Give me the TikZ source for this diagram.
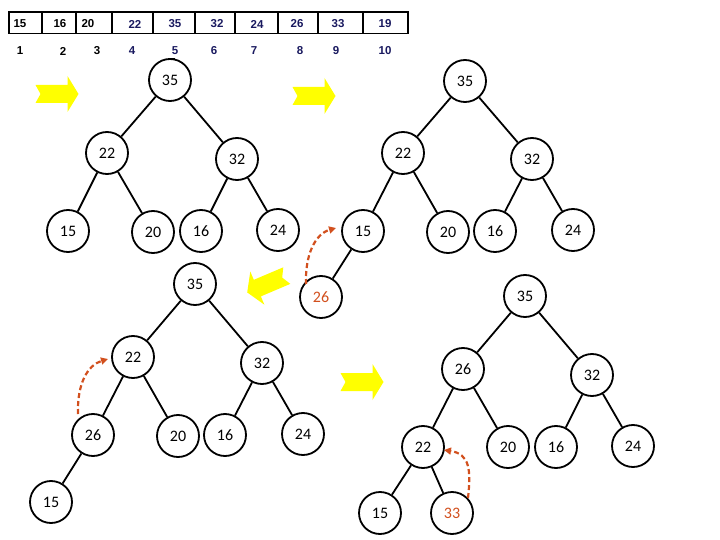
\documentclass[tikz,border=0pt]{standalone}
\usepackage{fontspec}
\setmainfont{Carlito}
\newfontfamily\arrfont{Liberation Sans}
\usetikzlibrary{arrows.meta}
\definecolor{hred}{RGB}{210,80,30}
\definecolor{hnavy}{RGB}{25,25,95}
\definecolor{hyel}{RGB}{255,255,0}
\tikzset{
 hn/.style={circle,draw,line width=1.8pt,minimum size=42pt,inner sep=0pt,fill=white,font=\fontsize{16}{16}\selectfont},
 hnr/.style={hn,text=hred},
 he/.style={line width=1.8pt},
 mv/.style={draw=hred,line width=2.2pt,dash pattern=on 5pt off 3pt,-{Triangle[length=7pt,width=7pt]}},
 yarr/.pic={\fill[hyel] (-21.5,-9) -- (10.5,-9) -- (10.5,-18) -- (21.5,0) -- (10.5,18) -- (10.5,9) -- (-21.5,9) -- (-16.5,0) -- cycle;},
 cell/.style={font=\arrfont\bfseries\fontsize{11.5}{11.5}\selectfont,inner sep=0pt},
}
\begin{document}
\begin{tikzpicture}[x=1pt,y=-1pt]
\useasboundingbox (0,0) rectangle (720,540);
% array
\draw[line width=1.8pt] (9,12) rectangle (408,33.5);
\foreach \x in {41.7,76,111.7,152.7,195,235,278.3,318.3,363.3}
  \draw[line width=1.8pt] (\x,12) -- (\x,33.5);
\node[cell] (c1) at (20,24) {15};
\node[cell] (c2) at (60,24) {16};
\node[cell] (c3) at (88,24) {20};
\node[cell,text=hnavy] (c4) at (135,24) {22};
\node[cell,text=hnavy] (c5) at (175,24) {35};
\node[cell,text=hnavy] (c6) at (217,24) {32};
\node[cell,text=hnavy] (c7) at (257,24) {24};
\node[cell,text=hnavy] (c8) at (297,24) {26};
\node[cell,text=hnavy] (c9) at (338,24) {33};
\node[cell,text=hnavy] (c10) at (385,24) {19};
\node[cell] (i1) at (20,51) {1};
\node[cell] (i2) at (63,51) {2};
\node[cell] (i3) at (97,51) {3};
\node[cell,text=hnavy] (i4) at (132,51) {4};
\node[cell,text=hnavy] (i5) at (175,51) {5};
\node[cell,text=hnavy] (i6) at (214,51) {6};
\node[cell,text=hnavy] (i7) at (254,51) {7};
\node[cell,text=hnavy] (i8) at (300,51) {8};
\node[cell,text=hnavy] (i9) at (336,51) {9};
\node[cell,text=hnavy] (i10) at (385,51) {10};
\draw[line width=1pt] (168,58.5) -- (175,58.5);
% yellow arrows
\pic at (57,94) {yarr};
\pic at (314,96) {yarr};
\pic[rotate=203] at (267,284) {yarr};
\pic at (362,382) {yarr};
% tree 1
\node[hn] (a35) at (170,80) {35};
\node[hn] (a22) at (107,153) {22};
\node[hn] (a32) at (237,159) {32};
\node[hn] (a15) at (68,231) {15};
\node[hn] (a20) at (153,232) {20};
\node[hn] (a16) at (201,231) {16};
\node[hn] (a24) at (278,230) {24};
\draw[he] (a35)--(a22) (a35)--(a32) (a22)--(a15) (a22)--(a20) (a32)--(a16) (a32)--(a24);
% tree 2
\node[hn] (b35) at (465,81) {35};
\node[hn] (b22) at (403,153) {22};
\node[hn] (b32) at (532,159) {32};
\node[hn] (b15) at (363,231) {15};
\node[hn] (b20) at (448,232) {20};
\node[hn] (b16) at (495,231) {16};
\node[hn] (b24) at (573,230) {24};
\node[hnr] (b26) at (321,297) {26};
\draw[he] (b35)--(b22) (b35)--(b32) (b22)--(b15) (b22)--(b20) (b32)--(b16) (b32)--(b24) (b15)--(b26);
\coordinate (m1s) at (306,284);
\coordinate (m1e) at (336,228);
\draw[mv] (m1s) .. controls (305,255) and (315,234) .. (m1e);
% tree 3
\node[hn] (d35) at (195,284) {35};
\node[hn] (d22) at (133,357) {22};
\node[hn] (d32) at (262,363) {32};
\node[hn] (d26) at (93,435) {26};
\node[hn] (d20) at (178,436) {20};
\node[hn] (d16) at (225,435) {16};
\node[hn] (d24) at (303,434) {24};
\node[hn] (d15) at (51,502) {15};
\draw[he] (d35)--(d22) (d35)--(d32) (d22)--(d26) (d22)--(d20) (d32)--(d16) (d32)--(d24) (d26)--(d15);
\coordinate (m2s) at (78,414);
\coordinate (m2e) at (108,359);
\draw[mv] (m2s) .. controls (77,383) and (88,365) .. (m2e);
% tree 4
\node[hn] (e35) at (525,296) {35};
\node[hn] (e26) at (463,369) {26};
\node[hn] (e32) at (592,375) {32};
\node[hn] (e22) at (423,447) {22};
\node[hn] (e20) at (508,447) {20};
\node[hn] (e16) at (556,447) {16};
\node[hn] (e24) at (633,446) {24};
\node[hn] (e15) at (380,513) {15};
\node[hnr] (e33) at (452,513) {33};
\draw[he] (e35)--(e26) (e35)--(e32) (e26)--(e22) (e26)--(e20) (e32)--(e16) (e32)--(e24) (e22)--(e15) (e22)--(e33);
\coordinate (m3s) at (468,498);
\coordinate (m3e) at (444,450);
\draw[mv] (m3s) .. controls (471,470) and (470,454) .. (m3e);
\end{tikzpicture}
\end{document}
